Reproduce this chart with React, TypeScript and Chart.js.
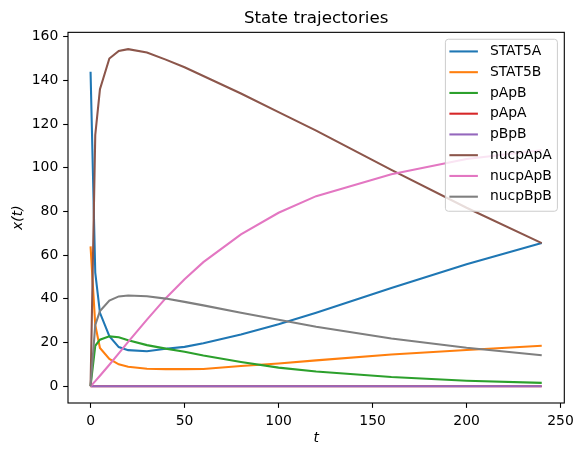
import React, { useEffect, useRef } from "react";
import { Chart, registerables } from "chart.js";

Chart.register(...registerables);

// ---- Data ----
const times = [0, 2.5, 5, 10, 15, 20, 30, 40, 50, 60, 80, 100, 120, 160, 200, 240];
const STAT5A = [144, 52, 33.6, 22.9, 17.9, 16.5, 16.0, 17.1, 18.0, 19.7, 23.7, 28.3, 33.6, 45.0, 55.8, 65.5];
const STAT5B = [64, 28, 17.5, 12.5, 10.0, 8.9, 8.0, 7.8, 7.8, 7.9, 9.2, 10.4, 11.8, 14.5, 16.6, 18.5];
const pApB = [0, 18.5, 21.3, 22.8, 22.4, 21.0, 18.8, 17.2, 15.8, 14.0, 11.1, 8.5, 6.7, 4.2, 2.5, 1.5];
const pApA = [0, 0, 0, 0, 0, 0, 0, 0, 0, 0, 0, 0, 0, 0, 0, 0];
const pBpB = [0, 0, 0, 0, 0, 0, 0, 0, 0, 0, 0, 0, 0, 0, 0, 0];
const nucpApA = [0, 115, 136, 150, 153.5, 154.3, 152.8, 149.5, 146, 142, 134, 125.5, 117, 99, 81.7, 65.5];
const nucpApB = [0, 2.3, 4.8, 9.8, 15, 20.3, 30.5, 40.3, 49, 56.8, 69.5, 79.4, 87, 97, 104, 108];
const nucpBpB = [0, 28, 34.4, 39.2, 41.1, 41.5, 41.2, 40.1, 38.6, 37.0, 33.6, 30.4, 27.2, 21.8, 17.6, 14.2];

const seriesNames = ["STAT5A", "STAT5B", "pApB", "pApA", "pBpB", "nucpApA", "nucpApB", "nucpBpB"];
const seriesValues = [STAT5A, STAT5B, pApB, pApA, pBpB, nucpApA, nucpApB, nucpBpB];
const seriesColors = ["#1f77b4", "#ff7f0e", "#2ca02c", "#d62728", "#9467bd", "#8c564b", "#e377c2", "#7f7f7f"];

const xTicks = [0, 50, 100, 150, 200, 250];
const yTicks = [0, 20, 40, 60, 80, 100, 120, 140, 160];

const titleText = "State trajectories";
const xLabel = "t";
const yLabel = "x(t)";

const FONT = "'DejaVu Sans', 'Liberation Sans', sans-serif";

const framePlugin = {
  id: "frame",
  afterDraw(chart: any) {
    const { ctx, chartArea: a } = chart;
    ctx.save();
    ctx.strokeStyle = "#000";
    ctx.lineWidth = 1.1;
    ctx.strokeRect(a.left, a.top, a.right - a.left, a.bottom - a.top);
    ctx.restore();
  },
};

const legendPlugin = {
  id: "mplLegend",
  afterDraw(chart: any) {
    const { ctx, chartArea: a } = chart;
    const ds = chart.data.datasets;
    const pad = 6.9;
    const boxW = 112;
    const rowH = 20.75;
    const boxH = 172;
    const right = a.right - pad;
    const left = right - boxW;
    const top = a.top + pad;
    ctx.save();
    const r = 3;
    ctx.beginPath();
    ctx.moveTo(left + r, top);
    ctx.lineTo(right - r, top);
    ctx.quadraticCurveTo(right, top, right, top + r);
    ctx.lineTo(right, top + boxH - r);
    ctx.quadraticCurveTo(right, top + boxH, right - r, top + boxH);
    ctx.lineTo(left + r, top + boxH);
    ctx.quadraticCurveTo(left, top + boxH, left, top + boxH - r);
    ctx.lineTo(left, top + r);
    ctx.quadraticCurveTo(left, top, left + r, top);
    ctx.closePath();
    ctx.fillStyle = "rgba(255,255,255,0.8)";
    ctx.fill();
    ctx.strokeStyle = "#cccccc";
    ctx.lineWidth = 1;
    ctx.stroke();
    ctx.font = `13.9px ${FONT}`;
    ctx.textBaseline = "middle";
    ctx.textAlign = "left";
    for (let i = 0; i < ds.length; i++) {
      const y = top + 12.2 + i * rowH;
      ctx.strokeStyle = ds[i].borderColor;
      ctx.lineWidth = 2.08;
      ctx.beginPath();
      ctx.moveTo(left + 4, y);
      ctx.lineTo(left + 32.5, y);
      ctx.stroke();
      ctx.fillStyle = "#000";
      ctx.fillText(ds[i].label, left + 44.5, y);
    }
    ctx.restore();
  },
};

export default function App() {
  const canvasRef = useRef<HTMLCanvasElement | null>(null);

  useEffect(() => {
    if (!canvasRef.current) return;
    const datasets = seriesNames.map((name, i) => ({
      label: name,
      data: times.map((t, j) => ({ x: t, y: seriesValues[i][j] })),
      borderColor: seriesColors[i],
      backgroundColor: seriesColors[i],
      borderWidth: 2.08,
      pointRadius: 0,
      tension: 0,
      fill: false,
      order: seriesNames.length - i,
    }));

    const chart = new Chart(canvasRef.current, {
      type: "line",
      data: { datasets },
      options: {
        animation: false,
        responsive: false,
        devicePixelRatio: 1,
        layout: { padding: { left: 0, right: 18.7, top: 0, bottom: 0 } },
        plugins: {
          legend: { display: false },
          tooltip: { enabled: false },
          title: {
            display: true,
            fullSize: false,
            text: titleText,
            color: "#000",
            font: { family: FONT, size: 16.7, weight: "normal" },
            padding: { top: 8.2, bottom: 4.1 },
          },
        },
        scales: {
          x: {
            type: "linear",
            min: -12,
            max: 252,
            afterBuildTicks: (scale: any) => {
              scale.ticks = xTicks.map((v) => ({ value: v }));
            },
            afterFit: (scale: any) => {
              scale.height = 52;
            },
            border: { display: false },
            grid: {
              drawOnChartArea: false,
              drawTicks: true,
              tickLength: 4.86,
              tickColor: "#000",
              tickWidth: 1.1,
            },
            ticks: {
              color: "#000",
              font: { family: FONT, size: 13.9 },
              padding: 4.86,
              maxRotation: 0,
              autoSkip: false,
            },
            title: {
              display: true,
              text: xLabel,
              color: "#000",
              font: { family: FONT, size: 13.9, style: "italic" },
              padding: { top: 0, bottom: 8.5 },
            },
          },
          y: {
            type: "linear",
            min: -7.7,
            max: 162,
            afterBuildTicks: (scale: any) => {
              scale.ticks = yTicks.map((v) => ({ value: v }));
            },
            afterFit: (scale: any) => {
              scale.width = 68;
            },
            border: { display: false },
            grid: {
              drawOnChartArea: false,
              drawTicks: true,
              tickLength: 4.86,
              tickColor: "#000",
              tickWidth: 1.1,
            },
            ticks: {
              color: "#000",
              font: { family: FONT, size: 13.9 },
              padding: 4.86,
              autoSkip: false,
            },
            title: {
              display: true,
              text: yLabel,
              color: "#000",
              font: { family: FONT, size: 13.9, style: "italic" },
              padding: { top: 10, bottom: 0 },
            },
          },
        },
      },
      plugins: [framePlugin, legendPlugin],
    } as any);

    return () => {
      chart.destroy();
    };
  }, []);

  return (
    <div style={{ position: "absolute", left: 0, top: 0, width: 583, height: 455, background: "#fff" }}>
      <canvas ref={canvasRef} width={583} height={455} style={{ display: "block" }} />
    </div>
  );
}
